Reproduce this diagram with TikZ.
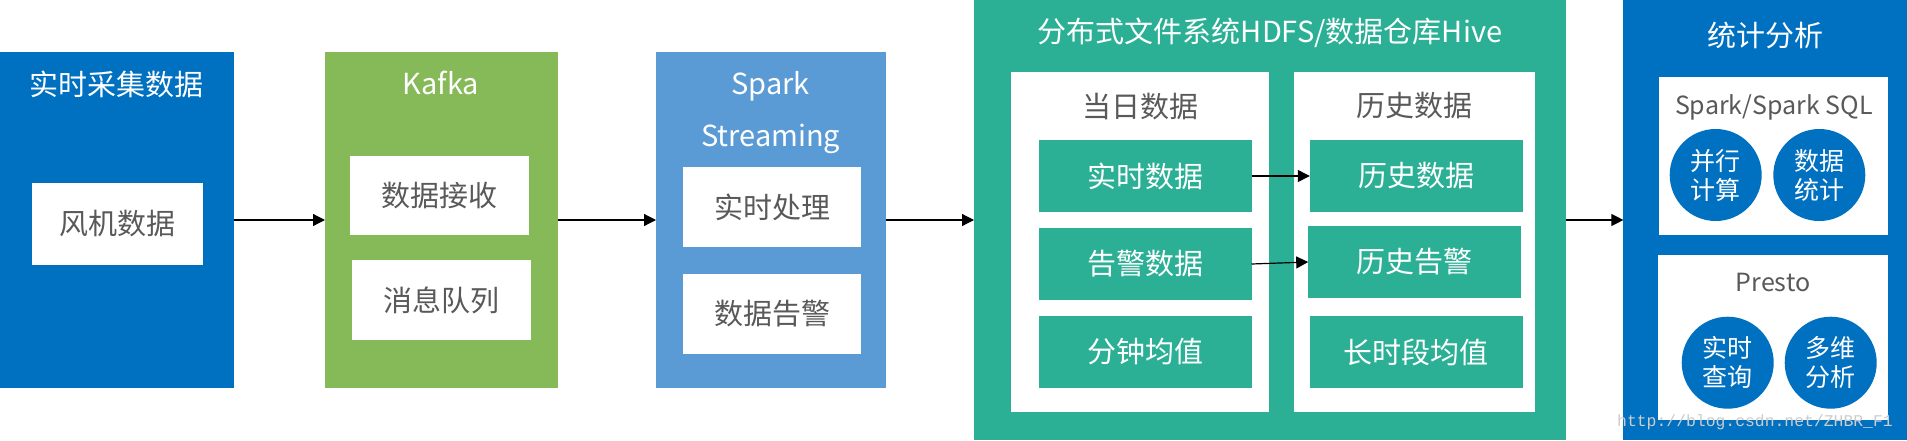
\documentclass[tikz,border=0pt]{standalone}
\usepackage{fontspec}
\setmainfont{Noto Sans CJK SC}
\newfontfamily\wmfont{Liberation Mono}
\usetikzlibrary{arrows.meta}
\definecolor{cblue}{HTML}{0070C0}
\definecolor{cgreen}{HTML}{86BA58}
\definecolor{csky}{HTML}{5B9BD5}
\definecolor{cteal}{HTML}{2BB095}
\definecolor{txtgray}{HTML}{595959}
\definecolor{wmgray}{HTML}{CDCDCD}
\tikzset{
  panel/.style={fill=#1, draw=none, inner sep=0pt, outer sep=0pt},
  bigfont/.style={font=\fontsize{29}{34}\selectfont},
  smallfont/.style={font=\fontsize{25}{29}\selectfont},
  whitebox/.style={fill=white, draw=none, inner sep=0pt, outer sep=0pt, text=txtgray, bigfont},
  tealbox/.style={fill=cteal, draw=none, inner sep=0pt, outer sep=0pt, text=white, bigfont},
  wtitle/.style={text=white, inner sep=0pt, bigfont},
  gtitle/.style={text=txtgray, inner sep=0pt, bigfont},
  circ/.style={circle, fill=cblue, draw=none, minimum size=92pt, inner sep=0pt, outer sep=0pt, text=white, align=center, smallfont},
  conn/.style={-{Triangle[length=12pt,width=12pt]}, line width=1.2pt, black},
}
\begin{document}
\begin{tikzpicture}[x=1pt,y=-1pt]
\useasboundingbox (0,0) rectangle (1907,440);
% column 1
\node[panel=cblue, minimum width=233.5pt, minimum height=336pt] (b1) at (116.75,220) {};
\node[wtitle] (t1) at (116,84) {实时采集数据};
\node[whitebox, minimum width=171pt, minimum height=82pt] (w1) at (117.5,224) {风机数据};
% column 2
\node[panel=cgreen, minimum width=232.5pt, minimum height=336pt] (b2) at (441.25,220) {};
\node[wtitle, anchor=base] (t2) at (441,94.3) {Kafka};
\node[whitebox, minimum width=179pt, minimum height=79pt] (w2a) at (439.5,195.5) {数据接收};
\node[whitebox, minimum width=179pt, minimum height=80pt] (w2b) at (441.5,300) {消息队列};
% column 3
\node[panel=csky, minimum width=229.7pt, minimum height=336pt] (b3) at (770.85,220) {};
\node[wtitle, anchor=base] (t3a) at (770.6,94) {Spark};
\node[wtitle, anchor=base] (t3b) at (770.6,146.5) {Streaming};
\node[whitebox, minimum width=178pt, minimum height=80pt] (w3a) at (772,207) {实时处理};
\node[whitebox, minimum width=178pt, minimum height=80pt] (w3b) at (772,314) {数据告警};
% column 4
\node[panel=cteal, minimum width=591.8pt, minimum height=440pt] (b4) at (1269.9,220) {};
\node[wtitle] (t4) at (1270,33.3) {分布式文件系统HDFS/数据仓库Hive};
\node[whitebox, minimum width=257.6pt, minimum height=340pt] (i4a) at (1139.8,242) {};
\node[gtitle] (i4at) at (1140,106.3) {当日数据};
\node[tealbox, minimum width=212.5pt, minimum height=72pt] (d1) at (1145.25,176) {实时数据};
\node[tealbox, minimum width=212.5pt, minimum height=72pt] (d2) at (1145.25,264) {告警数据};
\node[tealbox, minimum width=212.5pt, minimum height=72pt] (d3) at (1145.25,352) {分钟均值};
\node[whitebox, minimum width=240.1pt, minimum height=340pt] (i4b) at (1414.45,242) {};
\node[gtitle] (i4bt) at (1414.2,106) {历史数据};
\node[tealbox, minimum width=212.9pt, minimum height=72pt] (h1) at (1416.25,176) {历史数据};
\node[tealbox, minimum width=212.5pt, minimum height=72pt] (h2) at (1414.45,262) {历史告警};
\node[tealbox, minimum width=212.9pt, minimum height=72pt] (h3) at (1416.25,352) {长时段均值};
% column 5
\node[panel=cblue, minimum width=283.6pt, minimum height=440pt] (b5) at (1765.2,220) {};
\node[wtitle] (t5) at (1765,35) {统计分析};
\node[whitebox, minimum width=228.3pt, minimum height=158pt] (s1) at (1773.35,156) {};
\node[text=txtgray, inner sep=0pt, smallfont, anchor=base] (s1t) at (1773.8,114.3) {Spark/Spark SQL};
\node[circ] (c1) at (1715.7,175) {并行\\计算};
\node[circ] (c2) at (1819.3,175) {数据\\统计};
\node[whitebox, minimum width=230pt, minimum height=165pt] (s2) at (1772.7,337.5) {};
\node[text=txtgray, inner sep=0pt, smallfont, anchor=base] (s2t) at (1773,291.7) {Presto};
\node[circ] (c3) at (1727.7,362.7) {实时\\查询};
\node[circ] (c4) at (1830.7,362.7) {多维\\分析};
% watermark
\node[text=wmgray, inner sep=0pt, anchor=base west, font=\wmfont\fontsize{16.4}{18}\selectfont] (wm) at (1617,426) {http://blog.csdn.net/ZHBR\_F1};
% connectors
\draw[conn] (b1.east) -- (b2.west);
\draw[conn] (b2.east) -- (b3.west);
\draw[conn] (b3.east) -- (b4.west);
\draw[conn] (b4.east) -- (b5.west);
\draw[conn] (d1.east) -- (h1.west);
\draw[conn] (d2.east) -- (h2.west);
\end{tikzpicture}
\end{document}
